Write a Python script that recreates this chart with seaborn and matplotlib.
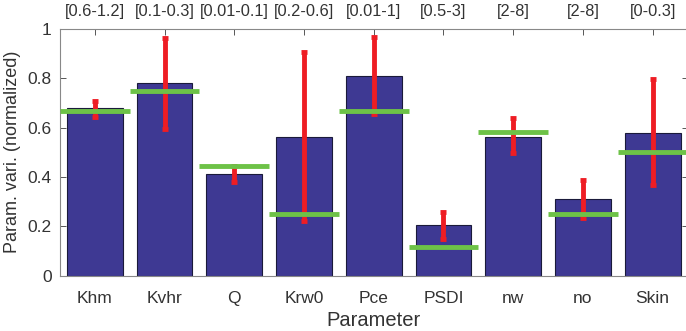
import matplotlib
matplotlib.use("Agg")
import matplotlib.pyplot as plt
import seaborn as sns
import numpy as np
import pandas as pd

params = ["Khm", "Kvhr", "Q", "Krw0", "Pce", "PSDI", "nw", "no", "Skin"]
ranges = ["[0.6-1.2]", "[0.1-0.3]", "[0.01-0.1]", "[0.2-0.6]", "[0.01-1]",
          "[0.5-3]", "[2-8]", "[2-8]", "[0-0.3]"]
bar_vals = [0.68, 0.78, 0.41, 0.563, 0.81, 0.204, 0.563, 0.31, 0.58]
true_vals = [0.667, 0.75, 0.446, 0.25, 0.667, 0.117, 0.584, 0.25, 0.50]
err_low = [0.645, 0.595, 0.378, 0.223, 0.655, 0.149, 0.497, 0.234, 0.366]
err_high = [0.708, 0.965, 0.445, 0.908, 0.969, 0.258, 0.638, 0.386, 0.796]

sns.set_theme(style="white")
plt.rcParams["font.family"] = ["Liberation Sans", "DejaVu Sans"]

fig = plt.figure(figsize=(6.86, 3.31), dpi=100)
W, H = 686, 331
left, right, top, bottom = 60, 687.5, 29, 275.5
ax = fig.add_axes([left / W, 1 - bottom / H, (right - left) / W, (bottom - top) / H])

df = pd.DataFrame({"Parameter": params, "val": bar_vals})
sns.barplot(data=df, x="Parameter", y="val", ax=ax, color="#3E3993",
            saturation=1, width=0.8, edgecolor="#1a1a3a", linewidth=0.8)

x = np.arange(len(params))
lo = np.array(err_low)
hi = np.array(err_high)
mid = (lo + hi) / 2
ax.errorbar(x, mid, yerr=[mid - lo, hi - mid], fmt="none", ecolor="#EE1D24",
            elinewidth=3.5, capsize=2, capthick=3.5, zorder=4)
for xi, tv in zip(x, true_vals):
    ax.hlines(tv, xi - 0.5, xi + 0.5, color="#6DC247", linewidth=3.5, zorder=5)

ax.set_xlim(-0.5, len(params) - 0.5)
ax.set_ylim(0, 1)
ax.set_yticks([0, 0.2, 0.4, 0.6, 0.8, 1])
ax.set_yticklabels(["0", "0.2", "0.4", "0.6", "0.8", "1"])
ax.set_xlabel("Parameter", fontsize=14.5, color="#333333", labelpad=4)
ax.set_ylabel("Param. vari. (normalized)", fontsize=13, color="#333333", labelpad=5)
ax.tick_params(axis="both", which="both", direction="in", length=4, width=0.7,
               colors="#555555", labelcolor="#333333", labelsize=12.5,
               top=True, right=True, bottom=True, left=True)
ax.tick_params(axis="x", pad=11)
ax.tick_params(axis="y", pad=6)
for s in ax.spines.values():
    s.set_color("#888888")
    s.set_linewidth(0.8)

sec = ax.secondary_xaxis("top")
sec.set_xticks(x)
sec.set_xticklabels(ranges)
sec.tick_params(direction="in", length=0, labelsize=11.8, labelcolor="#333333", pad=7)
sec.spines["top"].set_visible(False)

fig.savefig("out.png", dpi=100)
